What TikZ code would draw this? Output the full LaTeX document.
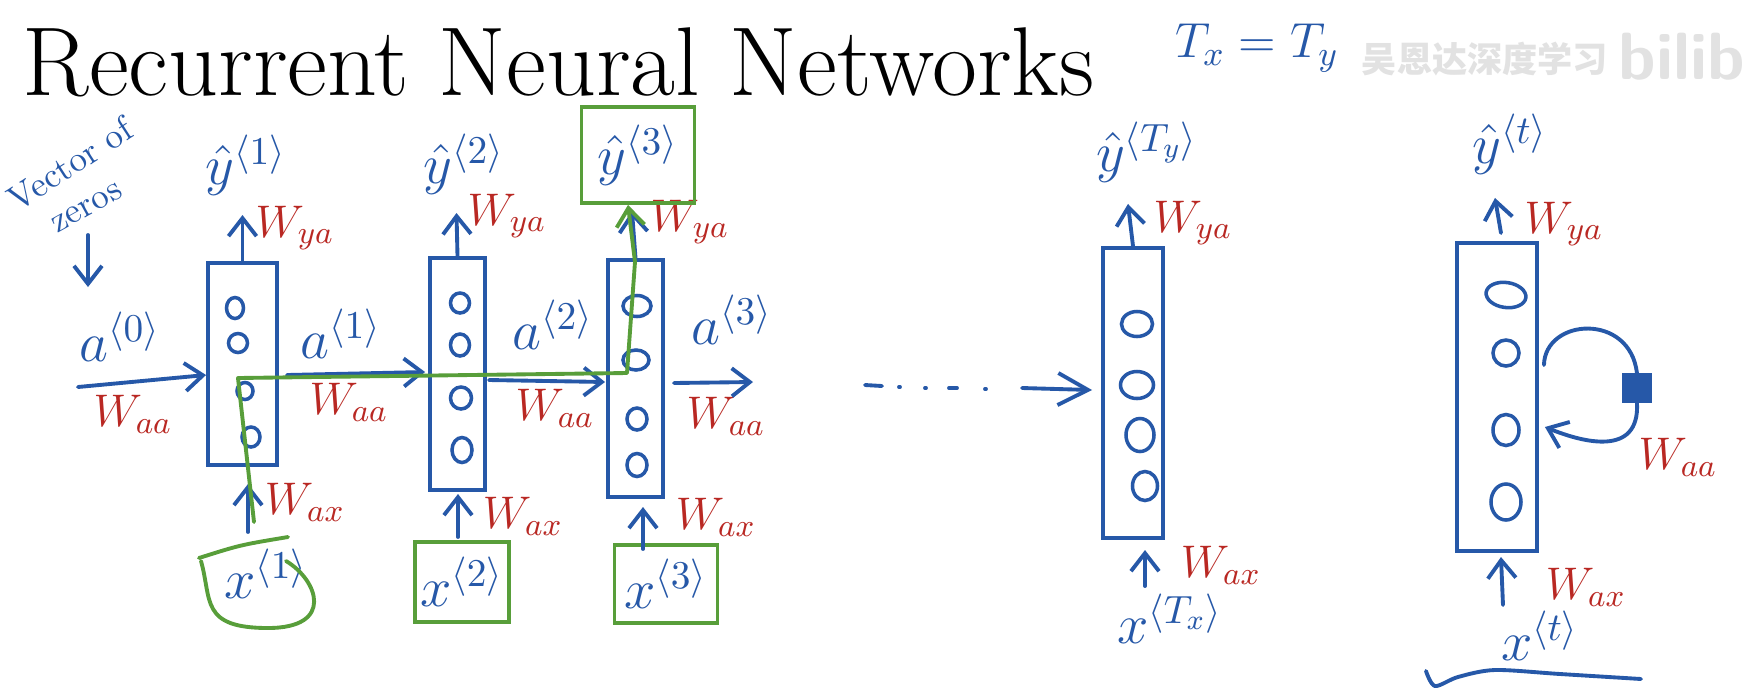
\RequirePackage{fix-cm}
\documentclass[tikz,border=0pt]{standalone}
\usepackage{amsmath}
\usepackage{fontspec}
\newfontfamily\cjkfont{Noto Sans CJK SC}
\usetikzlibrary{arrows.meta,shapes.geometric}
\definecolor{hblue}{RGB}{38,88,168}
\definecolor{hred}{RGB}{185,40,35}
\definecolor{hgreen}{RGB}{88,158,58}
\definecolor{wmark}{RGB}{226,226,226}
\tikzset{
  hb/.style={draw=hblue, line width=1.1pt, line cap=round, line join=round},
  arr/.style={hb, -{Straight Barb[length=1.8mm,width=2.8mm]}},
  bigarr/.style={hb, -{Straight Barb[length=3mm,width=3.2mm]}},
  gline/.style={draw=hgreen, line width=1.1pt, line cap=round, line join=round},
  garr/.style={gline, -{Straight Barb[length=1.8mm,width=2.8mm]}},
  cell/.style={draw=hblue, line width=1.1pt, rectangle, inner sep=0},
  neuron/.style 2 args={draw=hblue, line width=1pt, ellipse, inner sep=0, minimum width=#1, minimum height=#2},
  lab/.style={text=hblue, inner sep=0, font=\fontsize{16}{18}\selectfont},
  wlab/.style={text=hred, inner sep=0, font=\fontsize{13}{15}\selectfont},
  gbox/.style={draw=hgreen, line width=1.1pt}
}
\begin{document}
\begin{tikzpicture}[x=0.01cm,y=-0.01cm]
\useasboundingbox (0,0) rectangle (1744,696);
\fill[white] (0,0) rectangle (1744,696);

% title and header
\node[anchor=base west, inner sep=0, font=\fontsize{27.8}{32}\selectfont] (title) at (22,95) {Recurrent Neural Networks};
\node[lab, font=\fontsize{14}{16}\selectfont] (txty) at (1257,48) {$T_x = T_y$};
\node[text=wmark, inner sep=0, font=\cjkfont\bfseries\fontsize{10}{12}\selectfont] (wm) at (1485,59) {吴恩达深度学习};
\node[anchor=west, text=wmark, inner sep=0, font=\sffamily\bfseries\fontsize{19}{20}\selectfont] (bili) at (1618,57) {bilibili};

% vector of zeros
\node[lab, font=\fontsize{10}{12}\selectfont, rotate=33] (vz1) at (70,164) {Vector of};
\node[lab, font=\fontsize{10}{12}\selectfont, rotate=29] (vz2) at (87,208) {zeros};
\coordinate (z1) at (88,235);
\coordinate (z2) at (88,287);
\draw[arr] (z1) -- (z2);

% cells
\node[cell, minimum width=0.69cm, minimum height=2.02cm] (b1) at (242.5,364) {};
\node[cell, minimum width=0.55cm, minimum height=2.32cm] (b2) at (457.5,374) {};
\node[cell, minimum width=0.55cm, minimum height=2.37cm] (b3) at (635.5,378.5) {};
\node[cell, minimum width=0.60cm, minimum height=2.90cm] (bT) at (1133,393) {};
\node[cell, minimum width=0.80cm, minimum height=3.08cm] (bt) at (1497,397) {};

% neurons
\node[neuron={0.17cm}{0.21cm}] (n11) at (235,308) {};
\node[neuron={0.19cm}{0.19cm}] (n12) at (238,343) {};
\node[neuron={0.16cm}{0.17cm}] (n13) at (245,391) {};
\node[neuron={0.18cm}{0.20cm}] (n14) at (251,437) {};
\node[neuron={0.19cm}{0.20cm}] (n21) at (460,303) {};
\node[neuron={0.19cm}{0.22cm}] (n22) at (460,345) {};
\node[neuron={0.21cm}{0.22cm}] (n23) at (461,398) {};
\node[neuron={0.20cm}{0.25cm}] (n24) at (462,450) {};
\node[neuron={0.28cm}{0.21cm}] (n31) at (637,306) {};
\node[neuron={0.26cm}{0.20cm}] (n32) at (636,360) {};
\node[neuron={0.20cm}{0.22cm}] (n33) at (637,419) {};
\node[neuron={0.20cm}{0.23cm}] (n34) at (637,465) {};
\node[neuron={0.31cm}{0.25cm}] (nT1) at (1137,324) {};
\node[neuron={0.33cm}{0.27cm}] (nT2) at (1137,385) {};
\node[neuron={0.28cm}{0.33cm}] (nT3) at (1140,435) {};
\node[neuron={0.25cm}{0.29cm}] (nT4) at (1145,486) {};
\node[neuron={0.40cm}{0.25cm}, rotate=-8] (nt1) at (1506,295) {};
\node[neuron={0.26cm}{0.26cm}] (nt2) at (1506,353) {};
\node[neuron={0.26cm}{0.31cm}] (nt3) at (1506,430) {};
\node[neuron={0.30cm}{0.36cm}] (nt4) at (1506,502) {};

% hidden-state labels
\node[lab] (a0) at (120,337) {$a^{\langle 0\rangle}$};
\node[lab] (a1) at (341,334) {$a^{\langle 1\rangle}$};
\node[lab] (a2) at (553,325) {$a^{\langle 2\rangle}$};
\node[lab] (a3) at (732,320) {$a^{\langle 3\rangle}$};

% weights
\node[wlab] (waa0) at (133,414) {$W_{aa}$};
\node[wlab] (waa1) at (349,402) {$W_{aa}$};
\node[wlab] (waa2) at (555,408) {$W_{aa}$};
\node[wlab] (waa3) at (726,416) {$W_{aa}$};
\node[wlab] (waat) at (1678,457) {$W_{aa}$};
\node[wlab] (wya1) at (295,228) {$W_{ya}$};
\node[wlab] (wya2) at (507,216) {$W_{ya}$};
\node[wlab] (wya3) at (690,222) {$W_{ya}$};
\node[wlab] (wyaT) at (1193,223) {$W_{ya}$};
\node[wlab] (wyat) at (1564,224) {$W_{ya}$};
\node[wlab] (wax1) at (305,502) {$W_{ax}$};
\node[wlab] (wax2) at (523,516) {$W_{ax}$};
\node[wlab] (wax3) at (716,517) {$W_{ax}$};
\node[wlab] (waxT) at (1221,565) {$W_{ax}$};
\node[wlab] (waxt) at (1586,587) {$W_{ax}$};

% outputs
\node[lab] (y1) at (246,165) {$\hat{y}^{\langle 1\rangle}$};
\node[lab] (y2) at (464,164) {$\hat{y}^{\langle 2\rangle}$};
\node[lab, gbox, minimum width=1.13cm, minimum height=0.96cm] (y3) at (638,155) {$\hat{y}^{\langle 3\rangle}$};
\node[lab] (yT) at (1147,152) {$\hat{y}^{\langle T_y\rangle}$};
\node[lab] (yt) at (1510,144) {$\hat{y}^{\langle t\rangle}$};

% inputs
\node[lab] (x1) at (266,574) {$x^{\langle 1\rangle}$};
\node[lab, gbox, minimum width=0.94cm, minimum height=0.80cm] (x2) at (462,582) {$x^{\langle 2\rangle}$};
\node[lab, gbox, minimum width=1.03cm, minimum height=0.78cm] (x3) at (666,584) {$x^{\langle 3\rangle}$};
\node[lab] (xT) at (1170,619) {$x^{\langle T_x\rangle}$};
\node[lab] (xt) at (1540,636) {$x^{\langle t\rangle}$};

% horizontal arrows
\coordinate (a0s) at (78,387);
\draw[arr] (a0s) -- ([shift={(0,11)}]b1.west);
\draw[arr] ([shift={(8,11)}]b1.east) -- ([shift={(-3,-2)}]b2.west);
\draw[arr] ([shift={(2,6)}]b2.east) -- ([shift={(-1,3.5)}]b3.west);
\coordinate (a3e) at (753,382);
\draw[arr] ([shift={(9,4.5)}]b3.east) -- (a3e);

% dots
\draw[hb] (865,385) -- (882,386);
\draw[hb] (899,387) -- (900,387);
\draw[hb] (925,388) -- (926,388);
\draw[hb] (949,388) -- (957,388);
\draw[hb] (985,389) -- (986,389);
\coordinate (aTs) at (1022,388);
\draw[bigarr] (aTs) -- ([shift={(-9,-3)}]bT.west);

% vertical arrows to outputs
\draw[arr] (b1.north) -- ++(0,-46);
\draw[arr] (b2.north) -- ++(-1,-43);
\draw[arr] (b3.north) -- ([shift={(-6,6)}]y3.south);
\draw[arr] (bT.north) -- ++(-5,-42);
\draw[arr] ([shift={(4,-8)}]bt.north) -- ++(-6,-35);

% vertical arrows from inputs
\draw[arr] ([shift={(5.5,65)}]b1.south) -- ++(0,-48);
\draw[arr] ([shift={(0.5,45)}]b2.south) -- ++(0,-43);
\draw[arr] ([shift={(7.5,50)}]b3.south) -- ++(0,-42);
\draw[arr] ([shift={(12,46)}]bT.south) -- ++(0,-36);
\draw[arr] ([shift={(6,52)}]bt.south) -- ++(-2,-48);

% recurrent loop
\node[fill=hblue, draw=hblue, minimum size=0.28cm, inner sep=0] (sq) at (1637,388) {};
\draw[hb] ([shift={(5,-32)}]bt.east) .. controls (1545,318) and (1630,312) .. (sq.north);
\draw[arr] (sq.south) .. controls (1640,458) and (1582,442) .. ([shift={(6,30)}]bt.east);

% underline
\draw[hb] plot[smooth] coordinates {(1426,671) (1435,686) (1458,677) (1495,670) (1560,674) (1641,679)};

% green lasso around x1
\draw[gline] (199,558) .. controls (240,545) .. (288,537);
\draw[gline] (201,561) .. controls (212,600) and (200,628) .. (268,628) .. controls (335,628) and (318,580) .. (286,561);

% green forward path
\coordinate (g0) at (254,522);
\coordinate (g1) at (238,378);
\coordinate (g2) at (627,373);
\coordinate (g3) at (635,262);
\draw[garr] (g0) -- (g1) -- (g2) -- (g3) -- ([shift={(-10,0)}]y3.south);
\end{tikzpicture}
\end{document}
